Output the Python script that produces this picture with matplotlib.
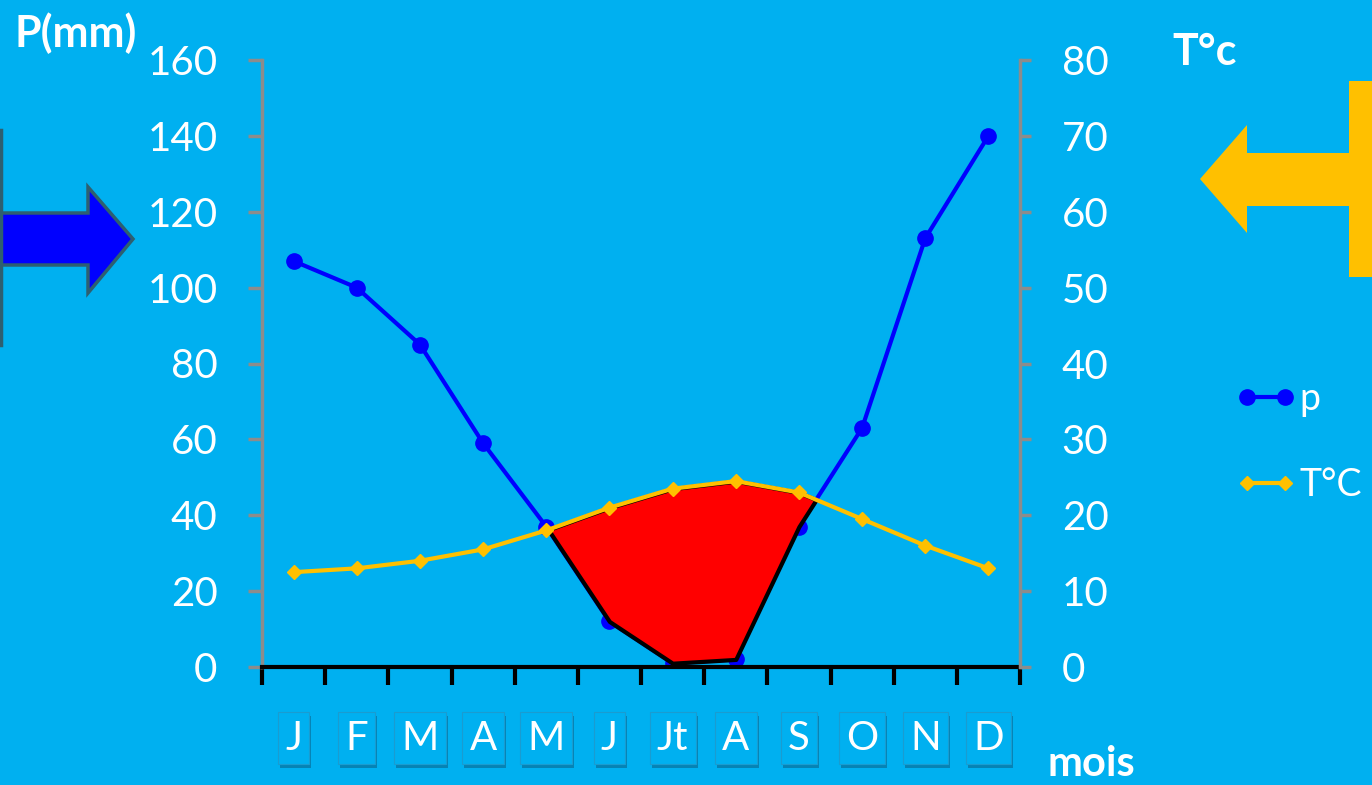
import numpy as np
import matplotlib.pyplot as plt
from matplotlib.patches import Polygon
import matplotlib.patheffects as pe

# Monthly climate values
months = ["J", "F", "M", "A", "M", "J", "Jt", "A", "S", "O", "N", "D"]
precip = [107, 100, 85, 59, 37, 12, 1, 2, 37, 63, 113, 140]
temp = [12.5, 13, 14, 15.5, 18, 21, 23.5, 24.5, 23, 19.5, 16, 13]
p_ticks = [0, 20, 40, 60, 80, 100, 120, 140, 160]
t_ticks = [0, 10, 20, 30, 40, 50, 60, 70, 80]

BG = "#00B0F0"
BLUE = "#0000FF"
GOLD = "#FFC000"
GREY = "#8C8C8C"
plt.rcParams["font.family"] = ["Lato", "DejaVu Sans"]

W, H = 1372, 785
fig = plt.figure(figsize=(W / 100, H / 100), dpi=100, facecolor=BG)

# decorative arrows drawn in pixel space
deco = fig.add_axes([0, 0, 1, 1], zorder=0)
deco.set_xlim(0, W)
deco.set_ylim(H, 0)
deco.axis("off")
blue_arrow = [(-5, 213), (88, 213), (88, 187), (133, 239), (88, 293), (88, 265), (-5, 265)]
deco.add_patch(Polygon(blue_arrow, closed=True, fc=BLUE, ec="#2E5F70", lw=2.5))
deco.plot([1, 1], [130, 345], color="#2E5F70", lw=2.5)
gold_shape = [(1200, 179), (1247, 125), (1247, 153), (1349, 153), (1349, 81), (1380, 81),
              (1380, 277), (1349, 277), (1349, 206), (1247, 206), (1247, 233)]
deco.add_patch(Polygon(gold_shape, closed=True, fc=GOLD, ec="none"))

ax = fig.add_axes([262 / W, 1 - 667 / H, (1020 - 262) / W, (667 - 60) / H], zorder=1)
ax.set_facecolor("none")
axt = ax.twinx()

x = np.arange(len(months)) + 0.5
P = np.array(precip, dtype=float)
T = np.array(temp, dtype=float)

ax.set_xlim(0, 12)
ax.set_ylim(p_ticks[0], p_ticks[-1])
axt.set_ylim(t_ticks[0], t_ticks[-1])
ratio = p_ticks[-1] / t_ticks[-1]

ax.plot(x, P, color=BLUE, lw=3, marker="o", ms=11, zorder=2, label="p")
# dry period: where P < 2T
ax.fill_between(x, P, T * ratio, where=P <= T * ratio, interpolate=True,
                facecolor="#FF0000", edgecolor="black", lw=3, zorder=3)
axt.plot(x, T, color=GOLD, lw=3, marker="D", ms=7, zorder=2, label="T°C")

for a in (ax, axt):
    a.spines["top"].set_visible(False)
ax.spines["right"].set_visible(False)
axt.spines["left"].set_visible(False)
axt.spines["bottom"].set_visible(False)
ax.spines["left"].set_color(GREY)
ax.spines["left"].set_linewidth(2.5)
axt.spines["right"].set_color(GREY)
axt.spines["right"].set_linewidth(2.5)
ax.spines["bottom"].set_color("black")
ax.spines["bottom"].set_linewidth(3)
ax.spines["bottom"].set_zorder(4)

ax.set_yticks(p_ticks)
axt.set_yticks(t_ticks)
ax.tick_params(axis="y", colors=GREY, width=2.5, length=10, pad=22,
               labelcolor="white", labelsize=29)
axt.tick_params(axis="y", colors=GREY, width=2.5, length=8, pad=22,
                labelcolor="white", labelsize=29)
ax.set_xticks(np.arange(13))
ax.tick_params(axis="x", colors="black", width=3, length=13, labelbottom=False)

# boxed month labels
for xi, m in zip(x, months):
    t = ax.text(xi, -0.117, m, transform=ax.get_xaxis_transform(), ha="center", va="center",
                color="white", fontsize=29, clip_on=False,
                bbox=dict(boxstyle="square,pad=0.18", fc=BG, ec="#1A9CD0", lw=0.8))
    t.get_bbox_patch().set_path_effects([
        pe.SimplePatchShadow(offset=(1.5, -3), shadow_rgbFace="#0A5E86", alpha=0.55),
        pe.Normal()])

fig.text(15 / W, 1 - 33 / H, "P(mm)", color="white", fontsize=31, fontweight="bold",
         ha="left", va="center")
fig.text(1172 / W, 1 - 52 / H, "T°c", color="white", fontsize=31, fontweight="bold",
         ha="left", va="center")
fig.text(1048 / W, 1 - 764 / H, "mois", color="white", fontsize=30, fontweight="bold",
         ha="left", va="center")

h1, l1 = ax.get_legend_handles_labels()
h2, l2 = axt.get_legend_handles_labels()
leg = fig.legend(h1 + h2, l1 + l2, loc="center left", bbox_to_anchor=(1236 / W, 1 - 442 / H),
                 frameon=False, fontsize=27, labelcolor="white", handlelength=1.6,
                 handletextpad=0.1, labelspacing=1.35, numpoints=2, borderpad=0,
                 borderaxespad=0)

fig.savefig("out.png", dpi=100, facecolor=BG)
